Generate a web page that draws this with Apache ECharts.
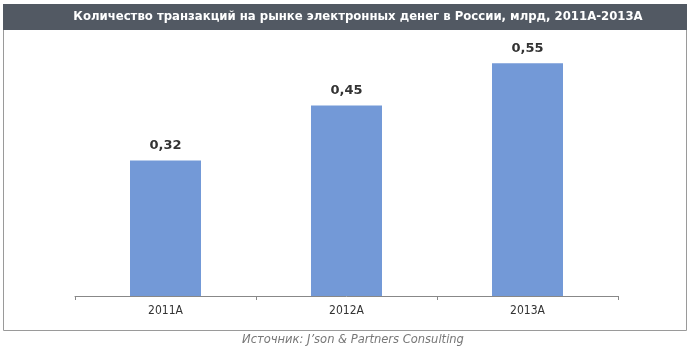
<!DOCTYPE html>
<html><head><meta charset="utf-8">
<script src="https://cdn.jsdelivr.net/npm/echarts@6/dist/echarts.min.js"></script>
<style>html,body{margin:0;padding:0;background:#fff}#c{width:690px;height:358px}</style>
</head><body><div id="c"></div>
<script>
const titleText = 'Количество транзакций на рынке электронных денег в России, млрд, 2011А-2013А';
const sourceText = 'Источник: J’son & Partners Consulting';
const categories = ['2011A', '2012A', '2013A'];
const values = [0.32, 0.45, 0.55];

const chart = echarts.init(document.getElementById('c'));
chart.setOption({
  animation: false,
  backgroundColor: '#fff',
  graphic: [
    { type: 'rect', shape: { x: 3.5, y: 4.5, width: 683, height: 326 }, style: { fill: 'none', stroke: '#9a9a9a', lineWidth: 1 }, z: 0 },
    { type: 'rect', shape: { x: 3, y: 4, width: 684, height: 26 }, style: { fill: '#525963' }, z: 1 },
    { type: 'text', x: 358, y: 17, style: { text: titleText, fill: '#fff', font: 'bold 13px "DejaVu Sans Condensed", "Liberation Sans", sans-serif', textAlign: 'center', textVerticalAlign: 'middle' }, z: 2 },
    { type: 'text', x: 353, y: 340, style: { text: sourceText, fill: '#777', font: 'italic 12.8px "DejaVu Sans Condensed", "Liberation Sans", sans-serif', textAlign: 'center', textVerticalAlign: 'middle' }, z: 2 }
  ],
  grid: { left: 75, right: 72, top: 42, bottom: 62 },
  xAxis: {
    type: 'category', data: categories,
    axisLine: { lineStyle: { color: '#888' } },
    axisTick: { show: true, length: 4, lineStyle: { color: '#888' } },
    axisLabel: { color: '#333', fontSize: 12, margin: 9, fontFamily: '"DejaVu Sans Condensed", sans-serif' }
  },
  yAxis: { type: 'value', min: 0, max: 0.6, show: false, splitLine: { show: false } },
  series: [{
    type: 'bar', data: values, barWidth: 71,
    itemStyle: { color: '#7399d7' },
    label: { show: true, position: 'top', distance: 8, color: '#333', fontWeight: 'bold', fontSize: 13,
      fontFamily: '"DejaVu Sans", sans-serif',
      formatter: p => p.value.toFixed(2).replace('.', ',') }
  }]
});
</script></body></html>
